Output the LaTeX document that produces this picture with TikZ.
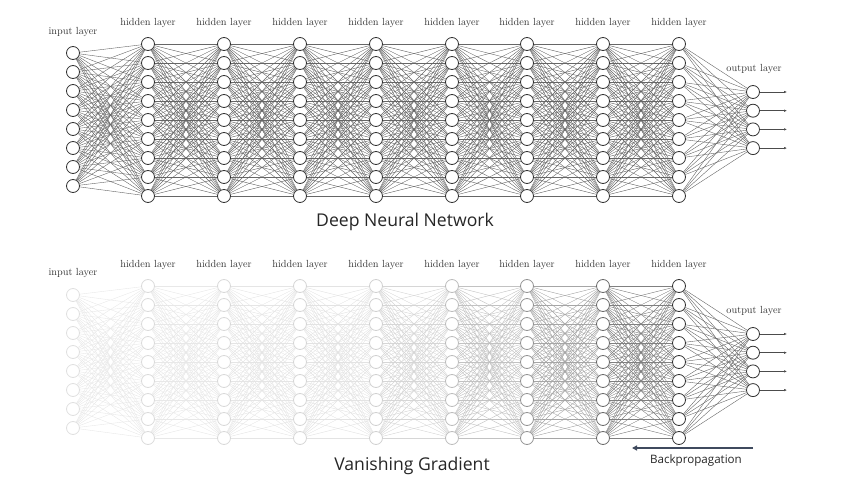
\documentclass[tikz,border=0pt]{standalone}
\usepackage{fontspec}
\newfontfamily\titlefont{Open Sans}
\usetikzlibrary{arrows.meta}
\definecolor{bpcol}{HTML}{3F4A5E}
\begin{document}
\begin{tikzpicture}[x=1pt,y=-1pt,
  neuron/.style={circle,draw=#1,fill=white,minimum size=13pt,inner sep=0pt,line width=0.8pt},
  edge/.style={draw=#1,line width=0.4pt},
  outarrow/.style={draw=#1,line width=0.5pt,-{Latex[length=3pt,width=2.5pt]}},
  lab/.style={font=\fontsize{10.3}{12}\selectfont,text=black!80,inner sep=0pt},
  title/.style={font=\titlefont\fontsize{17.6}{20}\selectfont,text=black!85,inner sep=0pt},
  bptext/.style={font=\titlefont\fontsize{11.6}{13}\selectfont,text=black!85,inner sep=0pt},
  bparrow/.style={draw=bpcol,line width=1.6pt,-{Triangle[length=5pt,width=5pt]}}]
\useasboundingbox (0,0) rectangle (847,489);

% ================= TOP NETWORK =================
\foreach \i in {1,...,8}
  \node[neuron=black!80] (t-0-\i) at (73,{53+19*(\i-1)}) {};
\foreach \L/\x in {1/148,2/224,3/300,4/376,5/452,6/527,7/603,8/679}
  \foreach \i in {1,...,9}
    \node[neuron=black!80] (t-\L-\i) at (\x,{44+19*(\i-1)}) {};
\foreach \i in {1,...,4}
  \node[neuron=black!80] (t-9-\i) at (753,{92+18.7*(\i-1)}) {};

\foreach \i in {1,...,8}
  \foreach \j in {1,...,9}
    \draw[edge=black!60] (t-0-\i) -- (t-1-\j);
\foreach \L in {1,...,7}{
  \pgfmathtruncatemacro\M{\L+1}
  \foreach \i in {1,...,9}
    \foreach \j in {1,...,9}
      \draw[edge=black!60] (t-\L-\i) -- (t-\M-\j);
}
\foreach \i in {1,...,9}
  \foreach \j in {1,...,4}
    \draw[edge=black!60] (t-8-\i) -- (t-9-\j);
\foreach \i in {1,...,4}{
  \coordinate (ta\i) at (787,{92+18.7*(\i-1)});
  \draw[outarrow=black!70] (t-9-\i) -- (ta\i);
}

\node[lab] (tl0) at (73,32) {input layer};
\foreach \L/\x in {1/148,2/224,3/300,4/376,5/452,6/527,7/603,8/679}
  \node[lab] (tl\L) at (\x,23) {hidden layer};
\node[lab] (tl9) at (754,69) {output layer};
\node[title] (ttitle) at (405,222) {Deep Neural Network};

% ================= BOTTOM NETWORK =================
\foreach \i in {1,...,8}
  \node[neuron=black!12] (b-0-\i) at (73,{295+19*(\i-1)}) {};
\foreach \L/\x/\c in {1/148/14,2/224/15,3/300/16,4/376/18,5/452/26,6/527/42,7/603/58,8/679/80}
  \foreach \i in {1,...,9}
    \node[neuron=black!\c] (b-\L-\i) at (\x,{286+19*(\i-1)}) {};
\foreach \i in {1,...,4}
  \node[neuron=black!80] (b-9-\i) at (753,{334+18.7*(\i-1)}) {};

\foreach \i in {1,...,8}
  \foreach \j in {1,...,9}
    \draw[edge=black!9] (b-0-\i) -- (b-1-\j);
\foreach \L/\c in {1/9,2/10,3/11,4/16,5/24,6/35,7/50}{
  \pgfmathtruncatemacro\M{\L+1}
  \foreach \i in {1,...,9}
    \foreach \j in {1,...,9}
      \draw[edge=black!\c] (b-\L-\i) -- (b-\M-\j);
}
\foreach \i in {1,...,9}
  \foreach \j in {1,...,4}
    \draw[edge=black!60] (b-8-\i) -- (b-9-\j);
\foreach \i in {1,...,4}{
  \coordinate (ba\i) at (787,{334+18.7*(\i-1)});
  \draw[outarrow=black!70] (b-9-\i) -- (ba\i);
}

\node[lab] (bl0) at (73,273) {input layer};
\foreach \L/\x in {1/148,2/224,3/300,4/376,5/452,6/527,7/603,8/679}
  \node[lab] (bl\L) at (\x,265) {hidden layer};
\node[lab] (bl9) at (754,311) {output layer};
\node[title] (btitle) at (412,466) {Vanishing Gradient};

\coordinate (bpS) at (753,448);
\coordinate (bpE) at (632,448);
\draw[bparrow] (bpS) -- (bpE);
\node[bptext] (bptxt) at (696,460) {Backpropagation};
\end{tikzpicture}
\end{document}
